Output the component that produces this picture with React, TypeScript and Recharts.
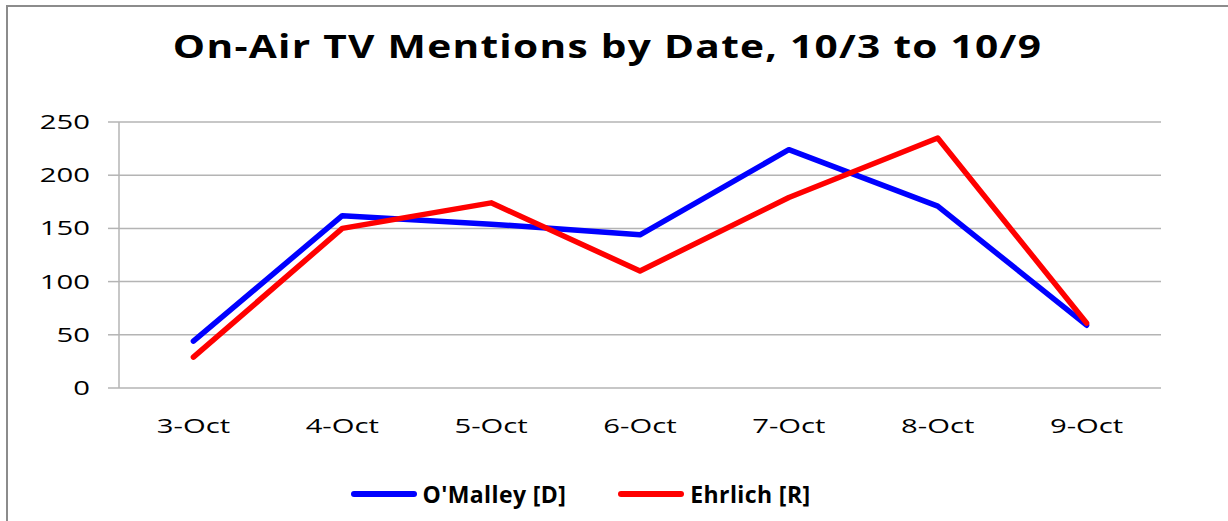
import React from "react";
import {
  LineChart,
  Line,
  XAxis,
  YAxis,
  CartesianGrid,
  Legend,
} from "recharts";

const dates = ["3-Oct", "4-Oct", "5-Oct", "6-Oct", "7-Oct", "8-Oct", "9-Oct"];
const omalley = [44, 162, 154, 144, 224, 171, 59];
const ehrlich = [29, 150, 174, 110, 179, 235, 61];
const yTicks = [0, 50, 100, 150, 200, 250];
// category boundaries, used for the little tick marks under the x axis
const edgeTicks = [0, 1, 2, 3, 4, 5, 6, 7];
const seriesOrder = ["omalley", "ehrlich"];

const data = dates.map((date, i) => ({
  date,
  omalley: omalley[i],
  ehrlich: ehrlich[i],
}));

const FONT = "'Open Sans', sans-serif";
const GRID = "#b4b4b4";

const YTick = (props: any) => {
  const { x, y, payload } = props;
  return (
    <g transform={`translate(${x},${y})`}>
      <text
        transform="scale(1.5,1)"
        textAnchor="end"
        dy="0.355em"
        fontSize={19.5}
        fontFamily={FONT}
        fill="#000"
      >
        {payload.value}
      </text>
    </g>
  );
};

const XTick = (props: any) => {
  const { x, y, payload } = props;
  return (
    <g transform={`translate(${x},${y})`}>
      <text
        transform="scale(1.5,1)"
        textAnchor="middle"
        dy="0.71em"
        fontSize={19.5}
        fontFamily={FONT}
        fill="#000"
      >
        {payload.value}
      </text>
    </g>
  );
};

const renderLegend = (props: any) => {
  const items = [...(props.payload || [])].sort(
    (a: any, b: any) =>
      seriesOrder.indexOf(a.dataKey) - seriesOrder.indexOf(b.dataKey)
  );
  return (
    <div
      style={{
        height: 40,
        display: "flex",
        justifyContent: "center",
        alignItems: "center",
        gap: 52,
        fontFamily: FONT,
      }}
    >
      {items.map((entry: any, i: number) => (
        <span key={i} style={{ display: "flex", alignItems: "center" }}>
          <span
            style={{
              display: "inline-block",
              width: 66,
              height: 6,
              borderRadius: 3,
              background: entry.color,
              marginRight: 6,
            }}
          />
          <span
            style={{
              fontSize: 23,
              fontWeight: 700,
              color: "#000",
              letterSpacing: 0.4,
            }}
          >
            {entry.value}
          </span>
        </span>
      ))}
    </div>
  );
};

export default function App() {
  return (
    <div
      style={{
        position: "relative",
        width: 1228,
        height: 521,
        overflow: "hidden",
        background: "#fff",
      }}
    >
      <style>{"body{margin:0}"}</style>
      <div
        style={{
          position: "absolute",
          left: 6,
          top: 5,
          width: 1400,
          height: 700,
          border: "2px solid #8c8c8c",
        }}
      />
      <div
        style={{
          position: "absolute",
          left: 0,
          top: 22,
          width: 1215,
          textAlign: "center",
          fontFamily: FONT,
          fontWeight: 700,
          fontSize: 32,
          lineHeight: "48px",
          color: "#000",
          letterSpacing: 1,
          transform: "scaleX(1.27)",
          transformOrigin: "center",
        }}
      >
        On-Air TV Mentions by Date, 10/3 to 10/9
      </div>
      <LineChart
        width={1228}
        height={521}
        data={data}
        margin={{ top: 122, right: 67, bottom: 7, left: 0 }}
        style={{ position: "absolute", left: 0, top: 0 }}
      >
        <CartesianGrid vertical={false} stroke={GRID} strokeWidth={1.5} />
        <XAxis
          xAxisId="edges"
          type="number"
          domain={[0, 7]}
          ticks={edgeTicks}
          tick={false}
          height={0}
          tickSize={7}
          axisLine={{ stroke: GRID, strokeWidth: 1.5 }}
          tickLine={{ stroke: GRID, strokeWidth: 1.5 }}
        />
        <XAxis
          dataKey="date"
          scale="band"
          height={86}
          axisLine={false}
          tickLine={false}
          tickSize={0}
          tickMargin={31}
          tick={<XTick />}
          interval={0}
        />
        <YAxis
          width={119}
          domain={[0, 250]}
          ticks={yTicks}
          tickSize={11}
          tickMargin={18}
          axisLine={{ stroke: GRID, strokeWidth: 1.5 }}
          tickLine={{ stroke: GRID, strokeWidth: 1.5 }}
          tick={<YTick />}
        />
        <Legend verticalAlign="bottom" content={renderLegend} />
        <Line
          name="O'Malley [D]"
          dataKey="omalley"
          stroke="#0000ff"
          strokeWidth={5.5}
          dot={false}
          strokeLinecap="round"
          strokeLinejoin="round"
          isAnimationActive={false}
        />
        <Line
          name="Ehrlich [R]"
          dataKey="ehrlich"
          stroke="#ff0000"
          strokeWidth={5.5}
          dot={false}
          strokeLinecap="round"
          strokeLinejoin="round"
          isAnimationActive={false}
        />
      </LineChart>
    </div>
  );
}
